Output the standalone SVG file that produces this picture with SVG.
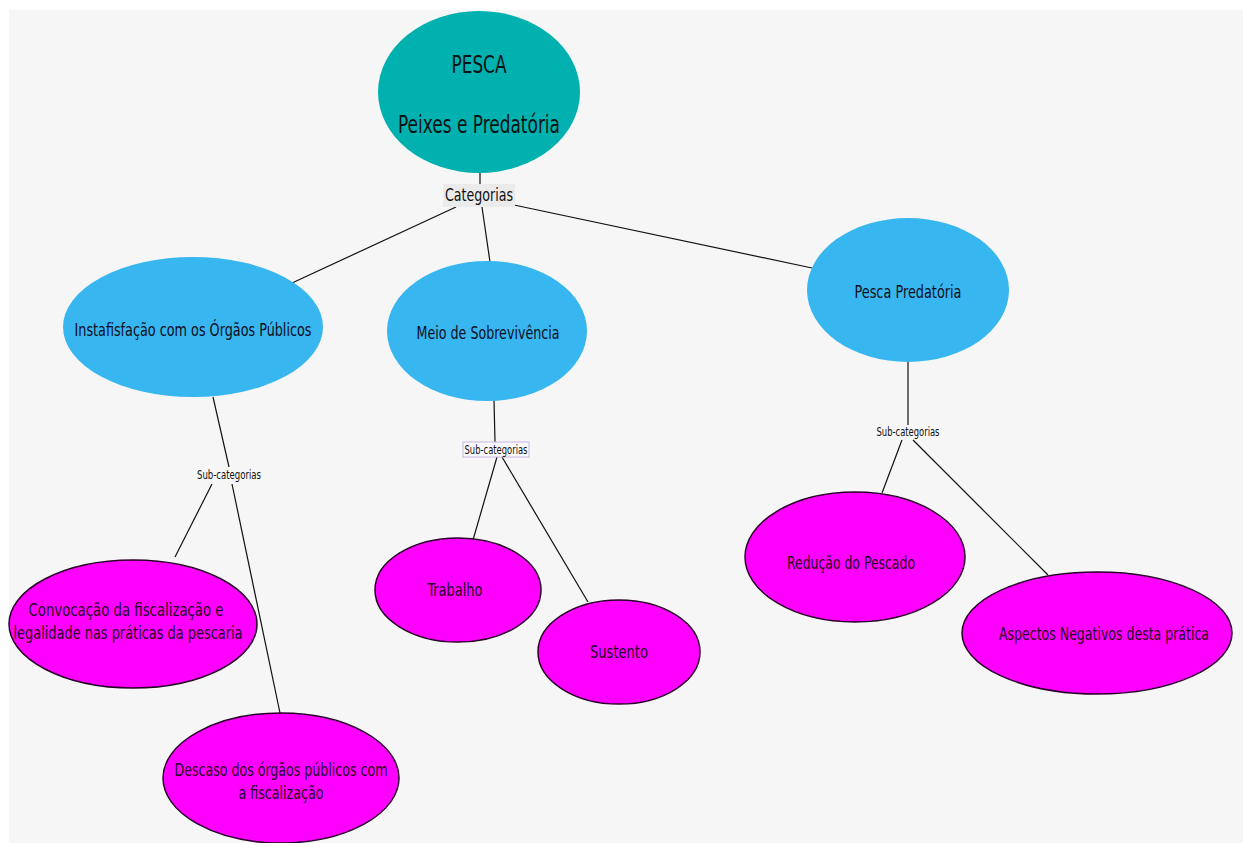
<svg xmlns="http://www.w3.org/2000/svg" width="1243" height="843" viewBox="0 0 1243 843">
  <style>
    text { font-family: 'DejaVu Sans Condensed', 'DejaVu Sans', sans-serif; font-stretch: condensed; text-anchor: middle; dominant-baseline: central; }
    .root { fill: #00b1b0; }
    .cat { fill: #38b6f0; }
    .sub { fill: #ff00ff; stroke: #2a002a; stroke-width: 1.5; }
    .t { fill: #0e0e22; font-size: 17px; }
    .tp { fill: #240024; font-size: 17px; }
    .lbl { fill: #111; font-size: 12px; }
    .conn line { stroke: #111; stroke-width: 1.2; }
  </style>

  <!-- canvas -->
  <rect x="0" y="0" width="1243" height="843" fill="#ffffff"/>
  <rect x="9" y="10" width="1234" height="833" fill="#f6f6f6"/>

  <!-- connectors -->
  <g id="connectors" class="conn">
    <line x1="480" y1="173" x2="480" y2="184"/>
    <line x1="456" y1="207" x2="292" y2="283"/>
    <line x1="482" y1="207" x2="490" y2="262"/>
    <line x1="514" y1="205" x2="812" y2="268"/>
    <line x1="213" y1="397" x2="229" y2="467"/>
    <line x1="212" y1="484" x2="175" y2="557"/>
    <line x1="232" y1="484" x2="280" y2="713"/>
    <line x1="494" y1="400" x2="495" y2="442"/>
    <line x1="497" y1="457" x2="473" y2="540"/>
    <line x1="502" y1="457" x2="588" y2="602"/>
    <line x1="908" y1="362" x2="908" y2="425"/>
    <line x1="902" y1="440" x2="882" y2="493"/>
    <line x1="913" y1="440" x2="1048" y2="575"/>
  </g>

  <!-- link labels -->
  <g id="lbl-categorias">
    <rect x="443" y="184" width="72" height="23" fill="#ebebeb"/>
    <text x="479" y="195" style="font-size:17px" fill="#111" textLength="68" lengthAdjust="spacingAndGlyphs">Categorias</text>
  </g>
  <g id="lbl-sub-1">
    <text class="lbl" x="229" y="475" textLength="64" lengthAdjust="spacingAndGlyphs">Sub-categorias</text>
  </g>
  <g id="lbl-sub-2">
    <rect x="463" y="442" width="66" height="15" fill="#fbf9fd" stroke="#c9b6e2" stroke-width="1"/>
    <text class="lbl" x="496" y="450" textLength="63" lengthAdjust="spacingAndGlyphs">Sub-categorias</text>
  </g>
  <g id="lbl-sub-3">
    <text class="lbl" x="908" y="432" textLength="63" lengthAdjust="spacingAndGlyphs">Sub-categorias</text>
  </g>

  <!-- root -->
  <g id="node-pesca">
    <ellipse class="root" cx="479" cy="92" rx="101" ry="81"/>
    <text x="479" y="65" style="font-size:24px" fill="#0a1414" textLength="55" lengthAdjust="spacingAndGlyphs">PESCA</text>
    <text x="479" y="125" style="font-size:24px" fill="#0a1414" textLength="162" lengthAdjust="spacingAndGlyphs">Peixes e Predatória</text>
  </g>

  <!-- categories -->
  <g id="node-instafisfacao">
    <ellipse class="cat" cx="193" cy="327" rx="130" ry="70"/>
    <text class="t" x="193" y="330" textLength="237" lengthAdjust="spacingAndGlyphs">Instafisfação com os Órgãos Públicos</text>
  </g>
  <g id="node-meio">
    <ellipse class="cat" cx="487" cy="331" rx="100" ry="70"/>
    <text class="t" x="488" y="333" textLength="143" lengthAdjust="spacingAndGlyphs">Meio de Sobrevivência</text>
  </g>
  <g id="node-pesca-predatoria">
    <ellipse class="cat" cx="908" cy="290" rx="101" ry="72"/>
    <text class="t" x="908" y="292" textLength="107" lengthAdjust="spacingAndGlyphs">Pesca Predatória</text>
  </g>

  <!-- sub-categories -->
  <g id="node-convocacao">
    <ellipse class="sub" cx="133" cy="624" rx="124" ry="64"/>
    <text class="tp" x="126" y="610" textLength="195" lengthAdjust="spacingAndGlyphs">Convocação da fiscalização e</text>
    <text class="tp" x="128" y="633" textLength="229" lengthAdjust="spacingAndGlyphs">legalidade nas práticas da pescaria</text>
  </g>
  <g id="node-descaso">
    <ellipse class="sub" cx="281" cy="778" rx="118" ry="65"/>
    <text class="tp" x="281" y="770" textLength="213" lengthAdjust="spacingAndGlyphs">Descaso dos órgãos públicos com</text>
    <text class="tp" x="281" y="793" textLength="85" lengthAdjust="spacingAndGlyphs">a fiscalização</text>
  </g>
  <g id="node-trabalho">
    <ellipse class="sub" cx="458" cy="590" rx="83" ry="52"/>
    <text class="tp" x="455" y="590" textLength="55" lengthAdjust="spacingAndGlyphs">Trabalho</text>
  </g>
  <g id="node-sustento">
    <ellipse class="sub" cx="619" cy="652" rx="81" ry="52"/>
    <text class="tp" x="619" y="652" textLength="58" lengthAdjust="spacingAndGlyphs">Sustento</text>
  </g>
  <g id="node-reducao">
    <ellipse class="sub" cx="855" cy="557" rx="110" ry="65"/>
    <text class="tp" x="851" y="563" textLength="128" lengthAdjust="spacingAndGlyphs">Redução do Pescado</text>
  </g>
  <g id="node-aspectos">
    <ellipse class="sub" cx="1097" cy="633" rx="135" ry="61"/>
    <text class="tp" x="1104" y="634" textLength="210" lengthAdjust="spacingAndGlyphs">Aspectos Negativos desta prática</text>
  </g>
</svg>
